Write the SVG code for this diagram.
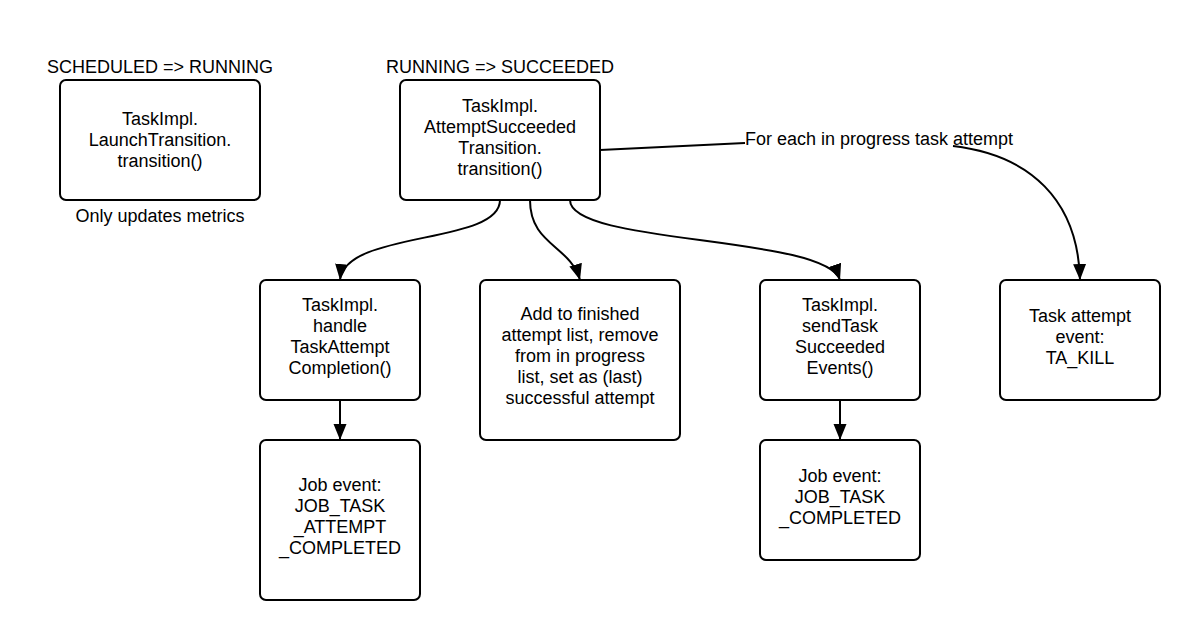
<svg xmlns="http://www.w3.org/2000/svg" width="1200" height="640" viewBox="0 0 1200 640">
  <style>
    .box { fill: #ffffff; stroke: #000000; stroke-width: 2; }
    .lbl { font-family: "Liberation Sans", Arial, sans-serif; font-size: 18px; fill: #000000; text-anchor: middle; }
    .lbl-l { font-family: "Liberation Sans", Arial, sans-serif; font-size: 18px; fill: #000000; }
    .wire { fill: none; stroke: #000000; stroke-width: 2; }
  </style>
  <defs>
    <marker id="arrow" markerUnits="userSpaceOnUse" markerWidth="18" markerHeight="15" refX="16" refY="6.5" orient="auto">
      <path d="M0,0 L16,6.5 L0,13 z" fill="#000000"/>
    </marker>
  </defs>
  <rect width="1200" height="640" fill="#ffffff"/>

  <!-- state headings -->
  <text class="lbl" x="160" y="73">SCHEDULED =&gt; RUNNING</text>
  <text class="lbl" x="500" y="73">RUNNING =&gt; SUCCEEDED</text>

  <!-- connectors -->
  <g id="connectors">
    <path class="wire" d="M500,200 C500,245 345,230 340,280" marker-end="url(#arrow)"/>
    <path class="wire" d="M530,200 C530,245 570,245 580,280" marker-end="url(#arrow)"/>
    <path class="wire" d="M570,200 C570,245 825,235 840,280" marker-end="url(#arrow)"/>
    <path class="wire" d="M600,150 Q680,146 745,143"/>
    <path class="wire" d="M953,146 C1030,155 1078,200 1080,280" marker-end="url(#arrow)"/>
    <path class="wire" d="M340,400 L340,440" marker-end="url(#arrow)"/>
    <path class="wire" d="M840,400 L840,440" marker-end="url(#arrow)"/>
    <text class="lbl-l" x="745" y="145">For each in progress task attempt</text>
  </g>

  <g id="launch-transition">
    <rect class="box" x="60" y="80" width="200" height="120" rx="6"/>
    <text class="lbl" x="160" y="125">TaskImpl.</text>
    <text class="lbl" x="160" y="146">LaunchTransition.</text>
    <text class="lbl" x="160" y="167">transition()</text>
    <text class="lbl" x="160" y="222">Only updates metrics</text>
  </g>

  <g id="attempt-succeeded">
    <rect class="box" x="400" y="80" width="200" height="120" rx="6"/>
    <text class="lbl" x="500" y="112">TaskImpl.</text>
    <text class="lbl" x="500" y="133">AttemptSucceeded</text>
    <text class="lbl" x="500" y="154">Transition.</text>
    <text class="lbl" x="500" y="175">transition()</text>
  </g>

  <g id="handle-completion">
    <rect class="box" x="260" y="280" width="160" height="120" rx="6"/>
    <text class="lbl" x="340" y="311">TaskImpl.</text>
    <text class="lbl" x="340" y="332">handle</text>
    <text class="lbl" x="340" y="353">TaskAttempt</text>
    <text class="lbl" x="340" y="374">Completion()</text>
  </g>

  <g id="finished-list">
    <rect class="box" x="480" y="280" width="200" height="160" rx="6"/>
    <text class="lbl" x="580" y="320">Add to finished</text>
    <text class="lbl" x="580" y="341">attempt list, remove</text>
    <text class="lbl" x="580" y="362">from in progress</text>
    <text class="lbl" x="580" y="383">list, set as (last)</text>
    <text class="lbl" x="580" y="404">successful attempt</text>
  </g>

  <g id="send-succeeded">
    <rect class="box" x="760" y="280" width="160" height="120" rx="6"/>
    <text class="lbl" x="840" y="311">TaskImpl.</text>
    <text class="lbl" x="840" y="332">sendTask</text>
    <text class="lbl" x="840" y="353">Succeeded</text>
    <text class="lbl" x="840" y="374">Events()</text>
  </g>

  <g id="ta-kill">
    <rect class="box" x="1000" y="280" width="160" height="120" rx="6"/>
    <text class="lbl" x="1080" y="322">Task attempt</text>
    <text class="lbl" x="1080" y="343">event:</text>
    <text class="lbl" x="1080" y="364">TA_KILL</text>
  </g>

  <g id="job-attempt-completed">
    <rect class="box" x="260" y="440" width="160" height="160" rx="6"/>
    <text class="lbl" x="340" y="491">Job event:</text>
    <text class="lbl" x="340" y="512">JOB_TASK</text>
    <text class="lbl" x="340" y="533">_ATTEMPT</text>
    <text class="lbl" x="340" y="554">_COMPLETED</text>
  </g>

  <g id="job-task-completed">
    <rect class="box" x="760" y="440" width="160" height="120" rx="6"/>
    <text class="lbl" x="840" y="482">Job event:</text>
    <text class="lbl" x="840" y="503">JOB_TASK</text>
    <text class="lbl" x="840" y="524">_COMPLETED</text>
  </g>
</svg>
